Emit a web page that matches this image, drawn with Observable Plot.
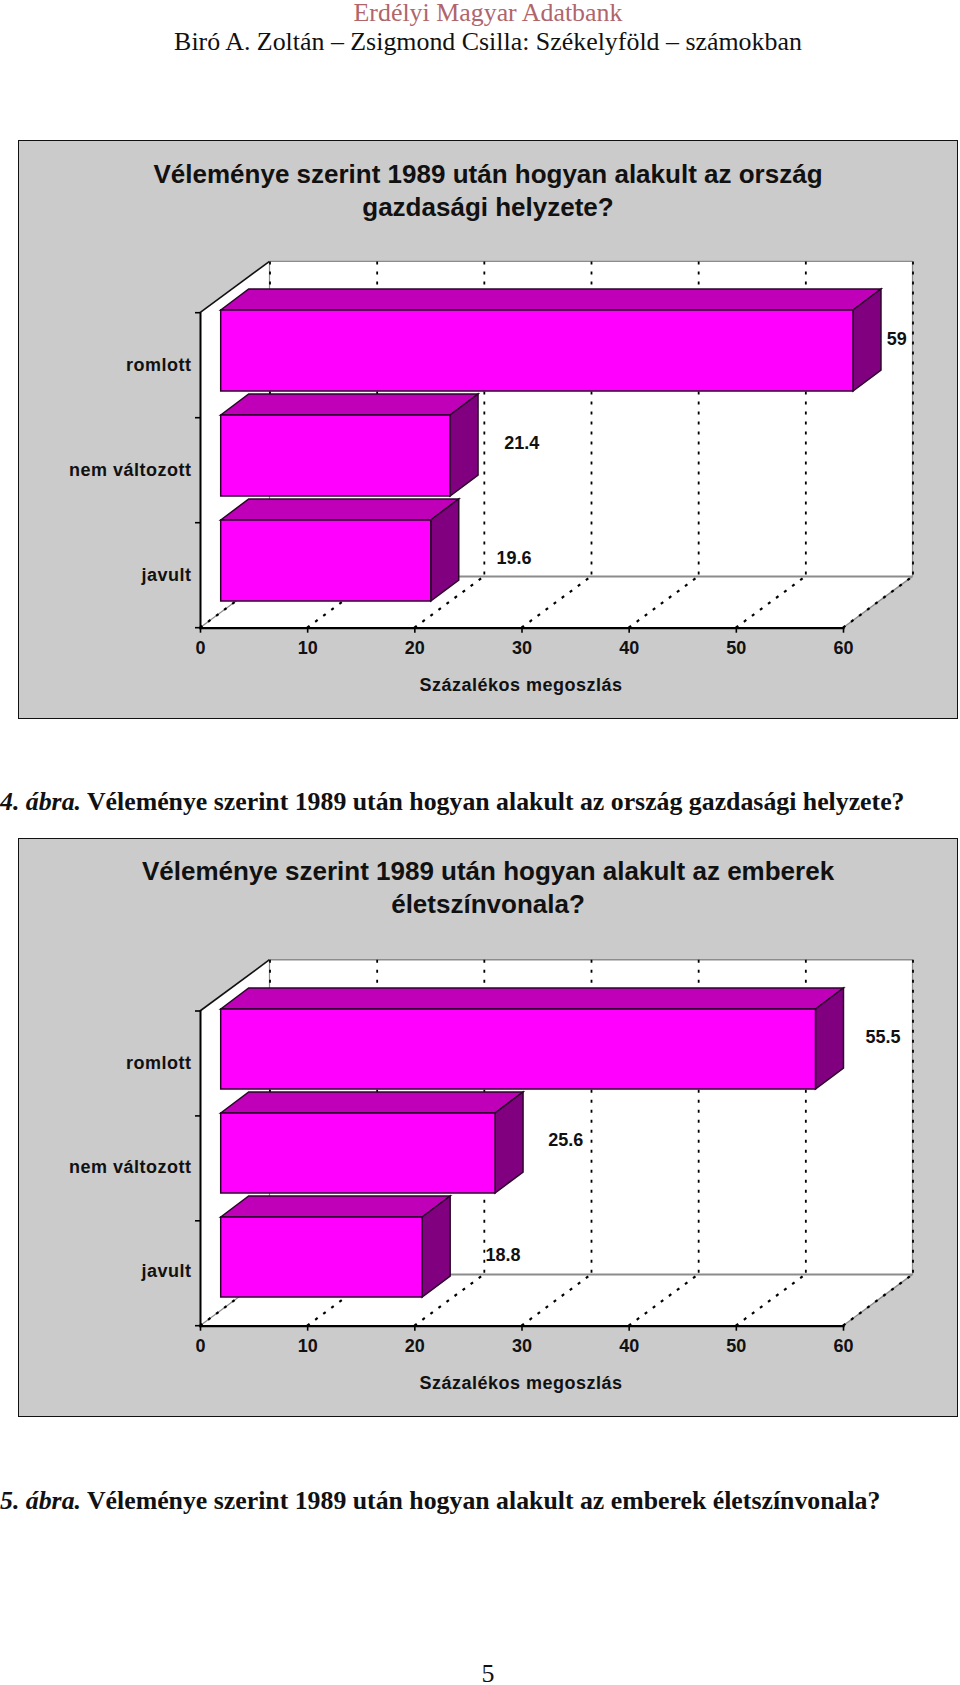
<!DOCTYPE html>
<html lang="hu">
<head>
<meta charset="utf-8">
<script src="https://cdn.jsdelivr.net/npm/d3@7"></script>
<script src="https://cdn.jsdelivr.net/npm/@observablehq/plot@0.6"></script>
<style>
html,body{margin:0;padding:0;background:#fff;}
body{position:relative;width:960px;height:1685px;overflow:hidden;}
.t{position:absolute;left:0;width:960px;transform:translateY(-50%);white-space:nowrap;font-family:"Liberation Serif",serif;}
.panel{position:absolute;left:17.5px;width:938px;box-sizing:content-box;background:#cbcbcb;border:1.6px solid #111;}
.ctitle{position:absolute;left:18px;width:940px;text-align:center;font:bold 26px/33px "Liberation Sans",sans-serif;color:#111;}
.spaced text{letter-spacing:.5px;}
</style>
</head>
<body>
<script>
const categories = ["romlott", "nem változott", "javult"];
const values4 = [59, 21.4, 19.6];
const values5 = [55.5, 25.6, 18.8];
const xTicks = [0, 10, 20, 30, 40, 50, 60];
const xLabel = "Százalékos megoszlás";
const pageHeader = "Erdélyi Magyar Adatbank";
const pageSubheader = "Biró A. Zoltán – Zsigmond Csilla: Székelyföld – számokban";
const title4 = ["Véleménye szerint 1989 után hogyan alakult az ország", "gazdasági helyzete?"];
const title5 = ["Véleménye szerint 1989 után hogyan alakult az emberek", "életszínvonala?"];
const caption4 = ["4. ábra.", " Véleménye szerint 1989 után hogyan alakult az ország gazdasági helyzete?"];
const caption5 = ["5. ábra.", " Véleménye szerint 1989 után hogyan alakult az emberek életszínvonala?"];
const pageNumber = "5";

// layout only
const wall = {dx: 69.5, dy: -51.3};     // full depth of the 3D box
const barFront = {dx: 20.7, dy: -15};   // front face of a bar inside the box
const barDepth = {dx: 28, dy: -21};     // thickness of a bar
const DASH = "3 7";
const colors = {front: "#ff00ff", top: "#bf00b8", side: "#800080", edge: "#2a052a", grey: "#8c8c8c"};

function addText(cls, top, html, style) {
  const d = document.createElement("div");
  d.className = cls;
  d.style.top = top + "px";
  d.innerHTML = html;
  Object.assign(d.style, style || {});
  document.body.appendChild(d);
}

function chart(values, o) {
  const rows = categories.map((category, i) => ({category, value: values[i]}));
  const svgNS = "http://www.w3.org/2000/svg";
  const el = (name, attrs) => {
    const e = document.createElementNS(svgNS, name);
    for (const k in attrs) e.setAttribute(k, attrs[k]);
    return e;
  };
  const poly = (pts, fill, stroke, sw) => el("polygon", {
    points: pts.map(p => p.join(",")).join(" "), fill,
    stroke: stroke || "none", "stroke-width": sw || 0, "stroke-linejoin": "miter"
  });
  const line = (a, b, stroke, sw, dash) => el("line", {
    x1: a[0], y1: a[1], x2: b[0], y2: b[1], stroke, "stroke-width": sw,
    ...(dash ? {"stroke-dasharray": dash} : {})
  });

  // Box walls, floor and floor grid, placed through the x scale.
  const box = (index, {x}, values_, dims) => {
    const g = el("g", {});
    const top = dims.marginTop, bot = dims.height - dims.marginBottom;
    const x0 = x(xTicks[0]), x1 = x(xTicks[xTicks.length - 1]);
    const {dx, dy} = wall;
    g.append(poly([[x0, top], [x0 + dx, top + dy], [x1 + dx, top + dy], [x1 + dx, bot + dy], [x1, bot], [x0, bot]], "#fff"));
    g.append(line([x0, top], [x0 + dx, top + dy], "#111", 1.6));
    g.append(line([x0 + dx, top + dy], [x1 + dx, top + dy], colors.grey, 1.4));
    g.append(line([x0 + dx, bot + dy], [x1 + dx, bot + dy], colors.grey, 2));
    g.append(line([x0 + dx, top + dy], [x0 + dx, bot + dy], colors.grey, 1.2));
    g.append(line([x1 + dx, top + dy], [x1 + dx, bot + dy], colors.grey, 1.2));
    g.append(line([x0, bot], [x0 + dx, bot + dy], colors.grey, 1.2));
    g.append(line([x1, bot], [x1 + dx, bot + dy], colors.grey, 1.4));
    for (const t of xTicks) {
      const a = x(t);
      g.append(line([a, bot], [a + dx, bot + dy], "#000", 2.2, DASH));
    }
    return g;
  };

  // Top and side faces of each bar, from the same scales as the bars.
  const faces = (index, {x, y}) => {
    const g = el("g", {});
    const h = y.bandwidth();
    const {dx, dy} = barDepth;
    for (const r of rows) {
      const l = x(0) + barFront.dx, rr = x(r.value) + barFront.dx;
      const t = y(r.category) + barFront.dy, b = t + h;
      g.append(poly([[l, t], [l + dx, t + dy], [rr + dx, t + dy], [rr, t]], colors.top, colors.edge, 1.5));
      g.append(poly([[rr, t], [rr + dx, t + dy], [rr + dx, b + dy], [rr, b]], colors.side, colors.edge, 1.5));
    }
    return g;
  };

  // Category tick marks sit on the band boundaries of the front axis.
  const yTickMarks = (index, {x}, v, dims) => {
    const g = el("g", {});
    const top = dims.marginTop, bot = dims.height - dims.marginBottom;
    for (let i = 0; i <= categories.length; i++) {
      const yy = top + (bot - top) * i / categories.length;
      g.append(line([x(0) - 5, yy], [x(0), yy], "#000", 1.6));
    }
    return g;
  };

  const plot = Plot.plot({
    width: 960,
    height: o.height,
    marginLeft: 200,
    marginRight: 117,
    marginTop: o.marginTop,
    marginBottom: o.marginBottom,
    style: {background: "transparent", fontFamily: "'Liberation Sans', sans-serif", fontSize: "18px", fontWeight: "bold", color: "#111", overflow: "visible"},
    x: {domain: [0, 60]},
    y: {domain: categories, paddingInner: 0.23, paddingOuter: 0.115, label: null},
    marks: [
      box,
      Plot.ruleX(xTicks, {dx: wall.dx, dy: wall.dy, stroke: "#000", strokeWidth: 1.8, strokeDasharray: DASH}),
      faces,
      Plot.barX(rows, {x: "value", y: "category", dx: barFront.dx, dy: barFront.dy, insetTop: 0, insetBottom: 0, fill: colors.front, stroke: colors.edge, strokeWidth: 1.5}),
      Plot.frame({anchor: "left", stroke: "#000", strokeWidth: 2}),
      Plot.frame({anchor: "bottom", stroke: "#000", strokeWidth: 2.2}),
      yTickMarks,
      Plot.axisX({ticks: xTicks, label: null, tickSize: 5, tickPadding: 8, stroke: "#000", strokeWidth: 1.6, fontSize: 18, tickFormat: d => String(d)}),
      Plot.axisY({tickSize: 0, tickPadding: 9, label: null, fontSize: 18, dy: -1, className: "spaced"}),
      ...rows.map((r, i) => Plot.text([r], {x: "value", y: "category", text: d => String(d.value), dx: o.labelDx[i], dy: o.labelDy[i], fontSize: 18, fill: "#111"})),
      Plot.text([xLabel], {frameAnchor: "bottom", dx: -1, dy: o.titleDy, fontSize: 18, fill: "#111", className: "spaced"})
    ]
  });
  plot.style.position = "absolute";
  plot.style.left = "0";
  plot.style.top = o.top + "px";
  document.body.appendChild(plot);
}

const serif = '25.9px/30px "Liberation Serif",serif';
addText("t", 13, pageHeader, {textAlign: "center", font: serif, color: "#b0656b", left: "8px"});
addText("t", 42, pageSubheader, {textAlign: "center", font: serif, color: "#111", left: "8px"});

function panel(top, bottom) {
  const p = document.createElement("div");
  p.className = "panel";
  p.style.top = top + "px";
  p.style.height = (bottom - top) + "px";
  document.body.appendChild(p);
}
panel(140, 717);
panel(838, 1415);

function cTitle(top, lines) {
  const d = document.createElement("div");
  d.className = "ctitle";
  d.style.top = top + "px";
  d.innerHTML = lines.join("<br>");
  document.body.appendChild(d);
}
cTitle(157.5, title4);
cTitle(854.5, title5);

chart(values4, {top: 240, height: 470, marginTop: 72.7, marginBottom: 82.3,
  labelDx: [64, 92, 103.5], labelDy: [-27, -28, -18], titleDy: 63});
chart(values5, {top: 940, height: 470, marginTop: 71, marginBottom: 84.3,
  labelDx: [87.7, 91, 101], labelDy: [-27, -28.6, -17], titleDy: 63});

const capStyle = {font: 'bold 25.8px/30px "Liberation Serif",serif', color: "#111", left: "0"};
addText("t", 802, `<i>${caption4[0]}</i>${caption4[1]}`, capStyle);
addText("t", 1501, `<i>${caption5[0]}</i>${caption5[1]}`, capStyle);
addText("t", 1674, pageNumber, {textAlign: "center", font: '25.9px/20px "Liberation Serif",serif', color: "#111", left: "8px"});
</script>
</body>
</html>
